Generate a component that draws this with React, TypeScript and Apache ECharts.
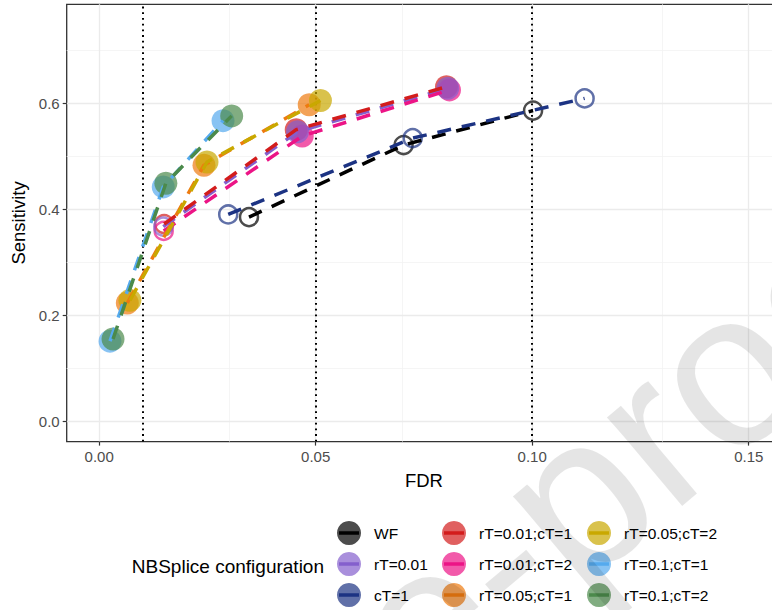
import { useEffect, useRef } from 'react';
import * as echarts from 'echarts';

const FONT = '"Liberation Sans", Arial, Helvetica, sans-serif';

// Configurations (legend order)
const configs = [
  'WF', 'rT=0.01', 'cT=1',
  'rT=0.01;cT=1', 'rT=0.01;cT=2', 'rT=0.05;cT=1',
  'rT=0.05;cT=2', 'rT=0.1;cT=1', 'rT=0.1;cT=2',
];
const colors = [
  '#000000', '#845FCD', '#1C3383',
  '#D31C1C', '#EC1486', '#EE7A10',
  '#C9A800', '#55AAEE', '#4B8A4B',
];
// drawing order of the points (index into configs)
const pointOrder = [0, 2, 3, 4, 1, 5, 6, 7, 8];

// Results at nominal FDR thresholds 0.01, 0.05, 0.10
const fdrAt001 = [0.0346, 0.0148, 0.0298, 0.0150, 0.0149, 0.0065, 0.0071, 0.0025, 0.0032];
const sensAt001 = [0.386, 0.368, 0.391, 0.373, 0.360, 0.224, 0.229, 0.152, 0.156];
const fdrAt005 = [0.0703, 0.0458, 0.0724, 0.0455, 0.0469, 0.0242, 0.0249, 0.0148, 0.0154];
const sensAt005 = [0.522, 0.547, 0.535, 0.551, 0.539, 0.484, 0.490, 0.443, 0.450];
const fdrAt010 = [0.1002, 0.0805, 0.1121, 0.0802, 0.0809, 0.0485, 0.0511, 0.0286, 0.0306];
const sensAt010 = [0.587, 0.629, 0.610, 0.632, 0.626, 0.598, 0.606, 0.568, 0.577];
// filled = FDR controlled, open = not controlled
const filledAt001 = [false, false, false, false, false, true, true, true, true];
const filledAt005 = [false, true, false, true, true, true, true, true, true];
const filledAt010 = [false, true, false, true, true, true, true, true, true];

const fdrThresholds = [0.01, 0.05, 0.1];
const xTicks = [0, 0.05, 0.1, 0.15];
const yTicks = [0, 0.2, 0.4, 0.6];
const xMinor = [0.025, 0.075, 0.125];
const yMinor = [0.1, 0.3, 0.5, 0.7];

function hexToRgba(hex: string, a: number) {
  const n = parseInt(hex.slice(1), 16);
  return `rgba(${(n >> 16) & 255},${(n >> 8) & 255},${n & 255},${a})`;
}

export default function App() {
  const ref = useRef<HTMLDivElement>(null);
  useEffect(() => {
    const chart = echarts.init(ref.current!, null, { renderer: 'svg' });

    const fdrSets = [fdrAt001, fdrAt005, fdrAt010];
    const sensSets = [sensAt001, sensAt005, sensAt010];
    const filledSets = [filledAt001, filledAt005, filledAt010];

    const pointSeries = pointOrder.map((i) => ({
      type: 'scatter',
      name: configs[i],
      z: 2,
      silent: true,
      data: [0, 1, 2].map((k) => {
        const filled = filledSets[k][i];
        return {
          value: [fdrSets[k][i], sensSets[k][i]],
          symbolSize: filled ? 23 : 18,
          itemStyle: filled
            ? { color: colors[i], opacity: 0.7, borderWidth: 0 }
            : { color: 'rgba(0,0,0,0)', borderColor: colors[i], borderWidth: 2.5, opacity: 0.7 },
        };
      }),
    }));

    const lineSeries = configs.map((name, i) => ({
      type: 'line',
      name,
      z: 3,
      silent: true,
      symbol: 'none',
      data: [0, 1, 2].map((k) => [fdrSets[k][i], sensSets[k][i]]),
      lineStyle: { color: colors[i], width: 3.5, type: [14, 11], cap: 'butt' },
    }));

    const majorStyle = { color: '#EBEBEB', width: 1.3, type: 'solid' };
    const minorStyle = { color: '#F3F3F3', width: 0.8, type: 'solid' };
    const gridSeries = {
      type: 'scatter',
      name: '__grid',
      data: [],
      silent: true,
      z: 0,
      markLine: {
        silent: true,
        z: 0,
        symbol: ['none', 'none'],
        label: { show: false },
        emphasis: { disabled: true },
        data: [
          ...xMinor.map((v) => ({ xAxis: v, lineStyle: minorStyle })),
          ...yMinor.map((v) => ({ yAxis: v, lineStyle: minorStyle })),
          ...xTicks.map((v) => ({ xAxis: v, lineStyle: majorStyle })),
          ...yTicks.map((v) => ({ yAxis: v, lineStyle: majorStyle })),
        ],
      },
    };
    const thresholdSeries = {
      type: 'scatter',
      name: '__thr',
      data: [],
      silent: true,
      z: 1,
      markLine: {
        silent: true,
        z: 1,
        symbol: ['none', 'none'],
        label: { show: false },
        emphasis: { disabled: true },
        data: fdrThresholds.map((v) => ({ xAxis: v })),
        lineStyle: { color: '#000000', width: 2, type: [1.8, 3.9], cap: 'butt' },
      },
    };

    const colLefts = [337, 442, 587];
    const legTop = 521;
    const rowStep = 31;
    const legends = colLefts.map((left, c) => ({
      orient: 'vertical',
      left,
      top: legTop,
      padding: 0,
      itemWidth: 40,
      itemHeight: 24,
      itemGap: rowStep - 24,
      selectedMode: false,
      icon: 'circle',
      textStyle: { fontSize: 15.5, color: '#000000', fontFamily: FONT },
      data: configs.slice(c * 3, c * 3 + 3).map((name, r) => ({
        name,
        icon: 'circle',
        itemStyle: { color: hexToRgba(colors[c * 3 + r], 0.7), opacity: 1, borderWidth: 0 },
      })),
    }));

    const legendBars: any[] = [];
    colLefts.forEach((left, c) => {
      for (let r = 0; r < 3; r++) {
        legendBars.push({
          type: 'rect',
          z: 100,
          silent: true,
          shape: { x: left + 2, y: legTop + 12 + r * rowStep - 1.75, width: 20, height: 3.5 },
          style: { fill: colors[c * 3 + r] },
        });
      }
    });

    const option = {
      animation: false,
      textStyle: { fontFamily: FONT },
      grid: {
        left: 66.7,
        top: 4.3,
        width: 714.5,
        height: 437.3,
        show: true,
        borderColor: '#333333',
        borderWidth: 1.3,
        backgroundColor: 'rgba(0,0,0,0)',
        outerBoundsMode: 'none',
      },
      xAxis: {
        type: 'value',
        min: -0.0075,
        max: 0.1575,
        name: 'FDR',
        nameLocation: 'middle',
        nameGap: 29,
        nameTextStyle: { fontSize: 18.5, color: '#000000', fontFamily: FONT },
        axisLine: { show: false, onZero: false },
        axisTick: { show: true, length: 4, customValues: xTicks, lineStyle: { color: '#333333', width: 1.2 } },
        axisLabel: {
          customValues: xTicks,
          formatter: (v: number) => v.toFixed(2),
          fontSize: 15,
          color: '#4D4D4D',
          margin: 7,
          fontFamily: FONT,
        },
        splitLine: { show: false },
      },
      yAxis: {
        type: 'value',
        min: -0.0375,
        max: 0.7875,
        name: 'Sensitivity',
        nameLocation: 'middle',
        nameGap: 37,
        nameTextStyle: { fontSize: 18.5, color: '#000000', fontFamily: FONT },
        axisLine: { show: false, onZero: false },
        axisTick: { show: true, length: 4, customValues: yTicks, lineStyle: { color: '#333333', width: 1.2 } },
        axisLabel: {
          customValues: yTicks,
          formatter: (v: number) => v.toFixed(1),
          fontSize: 15,
          color: '#4D4D4D',
          margin: 7,
          fontFamily: FONT,
        },
        splitLine: { show: false },
      },
      legend: legends,
      graphic: [
        {
          type: 'text',
          x: 324,
          y: 566,
          z: 100,
          silent: true,
          style: {
            text: 'NBSplice configuration',
            fontSize: 19,
            fontFamily: FONT,
            fill: '#000000',
            align: 'right',
            verticalAlign: 'middle',
          },
        },
        ...legendBars,
        {
          type: 'text',
          x: 210,
          y: 804,
          rotation: 0.7,
          z: 200,
          silent: true,
          style: {
            text: 'Pre-proof',
            fontSize: 220,
            fontFamily: FONT,
            fill: 'rgba(0,0,0,0.1)',
            align: 'left',
            verticalAlign: 'middle',
          },
        },
      ],
      series: [gridSeries, thresholdSeries, ...pointSeries, ...lineSeries],
    };

    chart.setOption(option as any);
    return () => chart.dispose();
  }, []);
  return <div ref={ref} style={{ position: 'absolute', left: 0, top: 0, width: 772, height: 610 }} />;
}
